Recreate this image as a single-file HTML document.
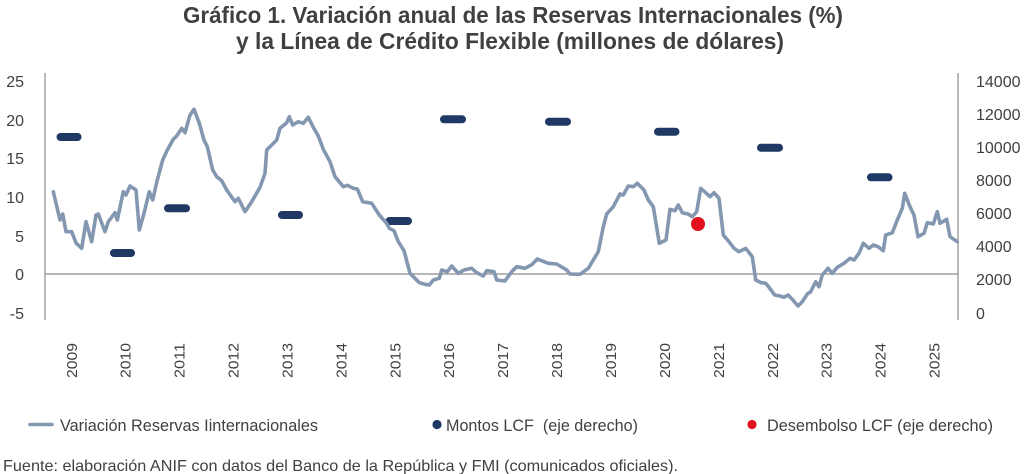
<!DOCTYPE html>
<html>
<head>
<meta charset="utf-8">
<style>
  html, body { margin: 0; padding: 0; background: #ffffff; }
  body { width: 1024px; height: 474px; overflow: hidden; }
  svg { display: block; }
  text { font-family: "Liberation Sans", "DejaVu Sans", sans-serif; fill: #404040; white-space: pre; }
</style>
</head>
<body>
<svg width="1024" height="474" viewBox="0 0 1024 474" xmlns="http://www.w3.org/2000/svg">
  <rect width="1024" height="474" fill="#ffffff"/>

  <!-- Title -->
  <text x="183" y="23" font-size="23" font-weight="bold" textLength="660" lengthAdjust="spacingAndGlyphs">Gráfico 1. Variación anual de las Reservas Internacionales (%)</text>
  <text x="236" y="49" font-size="23" font-weight="bold" textLength="548" lengthAdjust="spacingAndGlyphs">y la Línea de Crédito Flexible (millones de dólares)</text>

  <!-- Axes -->
  <line x1="45" y1="73" x2="45" y2="320" stroke="#8c8c8c" stroke-width="1.2"/>
  <line x1="958" y1="73" x2="958" y2="320" stroke="#8c8c8c" stroke-width="1.2"/>
  <line x1="45" y1="274" x2="958" y2="274" stroke="#8c8c8c" stroke-width="1.2"/>

  <!-- Left axis labels -->
  <g font-size="16" text-anchor="end">
    <text x="24" y="87">25</text>
    <text x="24" y="126">20</text>
    <text x="24" y="164">15</text>
    <text x="24" y="203">10</text>
    <text x="24" y="242">5</text>
    <text x="24" y="280">0</text>
    <text x="24" y="319">-5</text>
  </g>

  <!-- Right axis labels -->
  <g font-size="16">
    <text x="976" y="87">14000</text>
    <text x="976" y="120">12000</text>
    <text x="976" y="153">10000</text>
    <text x="976" y="186">8000</text>
    <text x="976" y="219">6000</text>
    <text x="976" y="252">4000</text>
    <text x="976" y="285">2000</text>
    <text x="976" y="319">0</text>
  </g>

  <!-- X axis labels (rotated) -->
  <g font-size="15" text-anchor="start">
    <text transform="translate(76.8,378) rotate(-90)" textLength="35" lengthAdjust="spacingAndGlyphs">2009</text>
    <text transform="translate(130.7,378) rotate(-90)" textLength="35" lengthAdjust="spacingAndGlyphs">2010</text>
    <text transform="translate(184.6,378) rotate(-90)" textLength="35" lengthAdjust="spacingAndGlyphs">2011</text>
    <text transform="translate(238.6,378) rotate(-90)" textLength="35" lengthAdjust="spacingAndGlyphs">2012</text>
    <text transform="translate(292.5,378) rotate(-90)" textLength="35" lengthAdjust="spacingAndGlyphs">2013</text>
    <text transform="translate(346.4,378) rotate(-90)" textLength="35" lengthAdjust="spacingAndGlyphs">2014</text>
    <text transform="translate(400.3,378) rotate(-90)" textLength="35" lengthAdjust="spacingAndGlyphs">2015</text>
    <text transform="translate(454.2,378) rotate(-90)" textLength="35" lengthAdjust="spacingAndGlyphs">2016</text>
    <text transform="translate(508.2,378) rotate(-90)" textLength="35" lengthAdjust="spacingAndGlyphs">2017</text>
    <text transform="translate(562.1,378) rotate(-90)" textLength="35" lengthAdjust="spacingAndGlyphs">2018</text>
    <text transform="translate(616.0,378) rotate(-90)" textLength="35" lengthAdjust="spacingAndGlyphs">2019</text>
    <text transform="translate(669.9,378) rotate(-90)" textLength="35" lengthAdjust="spacingAndGlyphs">2020</text>
    <text transform="translate(723.8,378) rotate(-90)" textLength="35" lengthAdjust="spacingAndGlyphs">2021</text>
    <text transform="translate(777.8,378) rotate(-90)" textLength="35" lengthAdjust="spacingAndGlyphs">2022</text>
    <text transform="translate(831.7,378) rotate(-90)" textLength="35" lengthAdjust="spacingAndGlyphs">2023</text>
    <text transform="translate(885.6,378) rotate(-90)" textLength="35" lengthAdjust="spacingAndGlyphs">2024</text>
    <text transform="translate(939.5,378) rotate(-90)" textLength="35" lengthAdjust="spacingAndGlyphs">2025</text>
  </g>

  <!-- Montos LCF dashes -->
  <g stroke="#1f3864" stroke-width="8" stroke-linecap="round">
    <line x1="60.5" y1="137" x2="77.5" y2="137"/>
    <line x1="114" y1="253" x2="131" y2="253"/>
    <line x1="168" y1="208.3" x2="186" y2="208.3"/>
    <line x1="282" y1="215" x2="299" y2="215"/>
    <line x1="389.5" y1="221" x2="408" y2="221"/>
    <line x1="444" y1="119.3" x2="462" y2="119.3"/>
    <line x1="549" y1="121.7" x2="567" y2="121.7"/>
    <line x1="658" y1="131.7" x2="675.5" y2="131.7"/>
    <line x1="761" y1="147.7" x2="779" y2="147.7"/>
    <line x1="871" y1="177.3" x2="888.5" y2="177.3"/>
  </g>

  <!-- Reserves variation line -->
  <polyline fill="none" stroke="#8497b0" stroke-width="3.6" stroke-linejoin="round" stroke-linecap="round" points="
    53.3,191.7 60,220 62.7,214 66,231.7 71.7,231.7 76,243 81.7,248.3 86,221.7 91.7,241.7 96,215 98.3,214
    105,231.7 108.3,221.7 115,212.7 117.3,220 123.3,191.7 126,195 130,186 136,190 139.3,230 144,213.3
    149.3,191.7 152.7,200 157.3,180 162.7,160 167.3,150 173.3,139.3 176.7,136 181.7,128.3 185,132.7
    190,115 194,109.3 199.3,123.3 204,140 207.3,146.7 212.7,170 216.7,176.7 221.7,180.7 226.7,190
    235,201.7 238.3,198.3 245,211.7 251.7,201.7 260,187.3 265,173.3 266.7,150 276.7,140 280,128.3
    286.7,122.7 289.3,116.7 292.7,125 298.3,121.7 303.3,123.3 308.3,117.3 313.3,127.3 318.3,136
    323.3,149.3 330,161.7 335,176.7 343.3,186.7 347.3,185.3 353.3,188.3 357.3,189 362.7,201.7
    371.7,203.3 379.3,215 386.7,223.3 389.3,228.3 394,230.7 398.3,241.7 404,250.7 410,273.3
    419.3,282.7 425,284.3 429.3,285 433.3,280 439.3,278.3 441.7,270 447.3,271.7 451.7,266 458.3,273.3
    464,270 471.7,268.3 476.7,272.7 483.3,276 486.7,270.7 494,271.7 496.7,280 505,281 511.7,271.7
    516.7,266.7 525,268.3 531.7,264.7 537.3,259 548.3,263.3 556.7,264 566.7,270 570,274 580,274.3
    588.3,268.3 598.3,251.7 603.3,226.7 606.7,214 613.3,206.7 620,194 623.3,195 628.3,186 633.3,186.7
    637.3,183.3 644,190 648.3,200 653.3,206.7 659.3,243.3 666,240 670,209.3 675,210.7 678.3,205
    682.3,212.7 688,214 692.3,216.7 696.7,211.7 700.7,188.3 705.7,192.7 710,196.7 714,192.7 719,198.3
    723.3,235 729,241.7 734,248.3 739,251.7 745.7,248.3 752.3,256.7 755.7,280 761.3,282.7 765.7,283.3
    769,287.3 774.7,295 780,296 784,297.3 788,295 792.3,299.3 798,306 802.3,301.7 807.3,294 810.7,291.7
    815.7,281.7 819,286.7 822.3,275 828,268.3 832.3,273.3 837.3,267.3 844,263.3 850,258.3 854,260
    859,253.3 863.3,243.3 869,248.3 873.3,245 878,246.7 883.3,250.7 885.7,235 892.3,232.7 897.3,220
    902.3,208.3 904.7,193.3 910,206.7 914,215 918,236.7 924,233.3 927.3,222.7 933.3,224 937.3,211.7
    940,223.3 946.7,219.3 950,236.7 957.3,241.7"/>

  <!-- Desembolso LCF -->
  <circle cx="698" cy="224" r="7" fill="#e0101f"/>

  <!-- Legend -->
  <line x1="30" y1="424.5" x2="52" y2="424.5" stroke="#8497b0" stroke-width="3.6" stroke-linecap="round"/>
  <text x="60" y="431" font-size="17" textLength="258" lengthAdjust="spacingAndGlyphs">Variación Reservas Iinternacionales</text>

  <circle cx="437" cy="424.5" r="4.6" fill="#1f3864"/>
  <text x="446" y="431" font-size="17" textLength="192" lengthAdjust="spacingAndGlyphs">Montos LCF  (eje derecho)</text>

  <circle cx="752" cy="424.5" r="4.6" fill="#e0101f"/>
  <text x="767" y="431" font-size="17" textLength="226" lengthAdjust="spacingAndGlyphs">Desembolso LCF (eje derecho)</text>

  <!-- Source -->
  <text x="3" y="471" font-size="16" textLength="675" lengthAdjust="spacingAndGlyphs">Fuente: elaboración ANIF con datos del Banco de la República y FMI (comunicados oficiales).</text>
</svg>
</body>
</html>
